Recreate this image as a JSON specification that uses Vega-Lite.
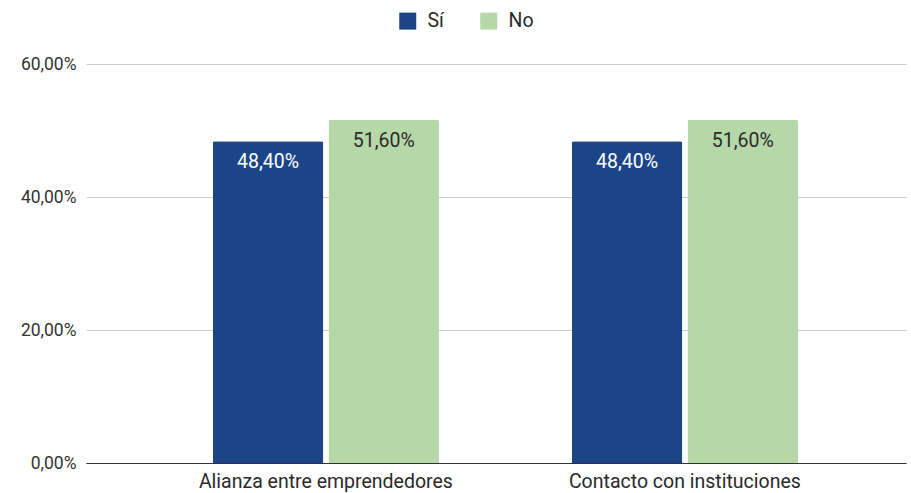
{
  "$schema": "https://vega.github.io/schema/vega-lite/v6.json",
  "width": 820,
  "height": 399,
  "autosize": {"type": "none"},
  "padding": {"left": 86, "top": 64, "right": 5, "bottom": 30},
  "background": "white",
  "config": {
    "locale": {"number": {"decimal": ",", "thousands": ".", "grouping": [3], "currency": ["", " €"]}},
    "font": "Roboto",
    "view": {"stroke": null}
  },
  "data": {
    "values": [
      {"categoria": "Alianza entre emprendedores", "respuesta": "Sí", "valor": 0.484},
      {"categoria": "Alianza entre emprendedores", "respuesta": "No", "valor": 0.516},
      {"categoria": "Contacto con instituciones", "respuesta": "Sí", "valor": 0.484},
      {"categoria": "Contacto con instituciones", "respuesta": "No", "valor": 0.516}
    ]
  },
  "encoding": {
    "x": {
      "field": "categoria",
      "type": "nominal",
      "sort": null,
      "scale": {"paddingInner": 0.37, "paddingOuter": 0.327, "align": 0.54},
      "axis": {
        "title": null,
        "labelAngle": 0,
        "labelFontSize": 19.5,
        "labelColor": "#2a2a2a",
        "labelFont": "Roboto",
        "labelLimit": 0,
        "ticks": false,
        "domainColor": "#333333",
        "domainWidth": 1,
        "labelPadding": 9
      }
    },
    "xOffset": {
      "field": "respuesta",
      "type": "nominal",
      "sort": ["Sí", "No"],
      "scale": {"paddingInner": 0.045}
    },
    "y": {
      "field": "valor",
      "type": "quantitative",
      "scale": {"domain": [0, 0.6]},
      "axis": {
        "title": null,
        "values": [0, 0.2, 0.4, 0.6],
        "format": ".2%",
        "labelFontSize": 17.5,
        "labelColor": "#333333",
        "labelFont": "Roboto",
        "ticks": false,
        "domain": false,
        "gridColor": "#cccccc",
        "labelPadding": 10
      }
    }
  },
  "layer": [
    {
      "mark": {"type": "bar", "cornerRadiusTopLeft": 2, "cornerRadiusTopRight": 2},
      "encoding": {
        "color": {
          "field": "respuesta",
          "type": "nominal",
          "sort": ["Sí", "No"],
          "scale": {"domain": ["Sí", "No"], "range": ["#1c4587", "#b6d7a8"]},
          "legend": {
            "title": null,
            "orient": "none",
            "direction": "horizontal",
            "legendX": 312,
            "legendY": -53,
            "symbolType": "square",
            "symbolSize": 289,
            "symbolStrokeWidth": 0,
            "labelFontSize": 19.5,
            "labelFont": "Roboto",
            "labelColor": "#2a2a2a",
            "labelOffset": 10,
            "columnPadding": 35
          }
        }
      }
    },
    {
      "mark": {"type": "text", "baseline": "middle", "dy": 21, "fontSize": 19.5, "font": "Roboto"},
      "encoding": {
        "text": {"field": "valor", "type": "quantitative", "format": ".2%"},
        "color": {
          "field": "respuesta",
          "type": "nominal",
          "scale": {"domain": ["Sí", "No"], "range": ["#ffffff", "#2a2a2a"]},
          "legend": null
        }
      }
    }
  ],
  "resolve": {"scale": {"color": "independent"}}
}
